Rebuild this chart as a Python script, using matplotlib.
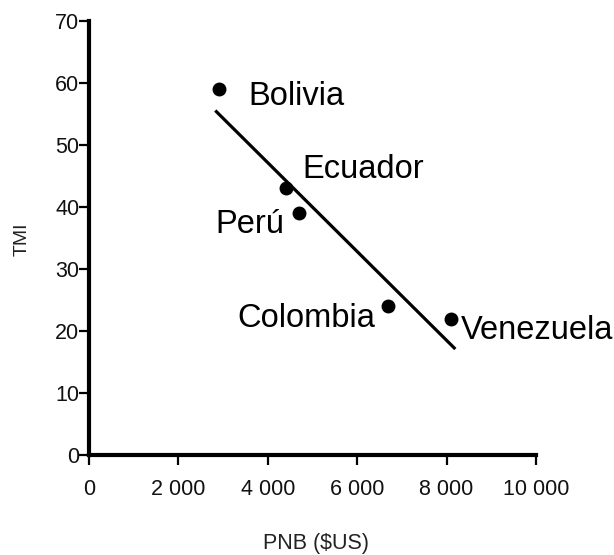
import numpy as np
from matplotlib import pyplot as plt

plt.rcParams['font.family'] = ['Liberation Sans', 'DejaVu Sans']

countries = ['Bolivia', 'Ecuador', 'Perú', 'Colombia', 'Venezuela']
pnb = np.array([2900, 4400, 4700, 6700, 8100])
tmi = np.array([59, 43, 39, 24, 22])

xticks = [0, 2000, 4000, 6000, 8000, 10000]
xticklabels = ['0', '2 000', '4 000', '6 000', '8 000', '10 000']
yticks = [0, 10, 20, 30, 40, 50, 60, 70]

# label offsets in pixels from each point, and alignment
offsets = [(30, -16, 'left'), (17, 10, 'left'), (-15, -20, 'right'),
           (-13, -21, 'right'), (10, -20, 'left')]

fig = plt.figure(figsize=(6.14, 5.55), dpi=100)
ax = fig.add_axes([89/614, 1-455/555, (536-89)/614, (455-21)/555])

# regression line
slope, intercept = np.polyfit(pnb, tmi, 1)
xs = np.array([pnb.min() - 50, pnb.max() + 70])
ax.plot(xs, slope*xs + intercept, color='black', lw=2.3, zorder=2)

ax.plot(pnb, tmi, 'o', color='black', ms=9, zorder=3)

for name, x, y, (dx, dy, ha) in zip(countries, pnb, tmi, offsets):
    ax.annotate(name, (x, y), xytext=(dx, dy), textcoords='offset pixels',
                ha=ha, va='baseline', fontsize=23.5, color='black')

ax.set_xlim(0, 10000)
ax.set_ylim(0, 70)
ax.set_xticks(xticks)
ax.set_xticklabels(xticklabels)
ax.set_yticks(yticks)

for s in ['top', 'right']:
    ax.spines[s].set_visible(False)
for s in ['left', 'bottom']:
    ax.spines[s].set_linewidth(3)
ax.tick_params(axis='both', length=7, width=1.6, labelsize=15.5, labelcolor='#111')
ax.tick_params(axis='x', pad=10)
ax.tick_params(axis='y', pad=0)

fig.text(22/614, 1-239/555, 'TMI', rotation=90, ha='center', va='center',
         fontsize=14, color='#222')
fig.text(316/614, 1-543/555, 'PNB ($US)', ha='center', va='center',
         fontsize=15.5, color='#222')

plt.savefig('out.png', dpi=100)
